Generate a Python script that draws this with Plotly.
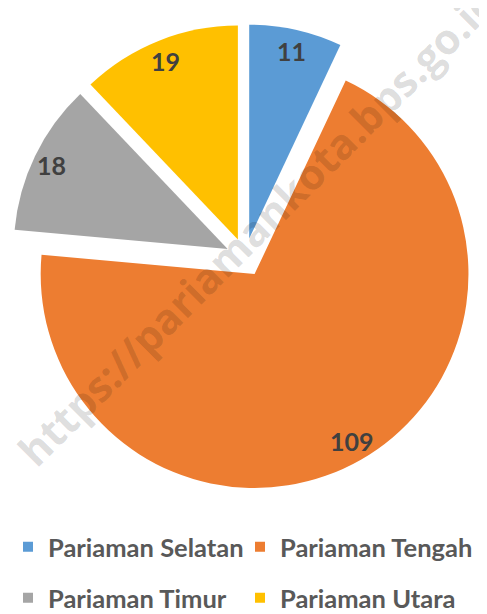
import math
import plotly.graph_objects as go

categories = ["Pariaman Selatan", "Pariaman Tengah", "Pariaman Timur", "Pariaman Utara"]
values = [11, 109, 18, 19]
colors = ["#5B9BD5", "#ED7D31", "#A5A5A5", "#FFC000"]
watermark = "https://pariamankota.bps.go.id"

W, H = 487, 614
PULL = 0.09
LABEL_FRAC = 0.90
dom_x = [0.0, 0.9733]
dom_y = [0.2011, 0.9731]

fig = go.Figure()
fig.add_trace(go.Pie(
    labels=categories, values=values,
    marker=dict(colors=colors, line=dict(width=0)),
    sort=False, direction="clockwise", rotation=0,
    pull=[PULL] * len(values), textinfo="none",
    hoverinfo="label+value", domain=dict(x=dom_x, y=dom_y),
    showlegend=False,
))

# data labels placed along each slice's mid-angle (same geometry plotly uses)
aw = W * (dom_x[1] - dom_x[0])
ah = H * (dom_y[1] - dom_y[0])
r = min(aw, ah) / (2 + 2 * PULL)
cx = W * (dom_x[0] + dom_x[1]) / 2
cy = H * (1 - dom_y[0]) - ah / 2
total = sum(values)
cum = 0
for v in values:
    mid = (cum + v / 2) / total * 2 * math.pi
    cum += v
    d = PULL * r + LABEL_FRAC * r
    px = cx + d * math.sin(mid)
    py = cy - d * math.cos(mid)
    fig.add_annotation(x=px / W, y=1 - py / H, xref="paper", yref="paper",
                       xanchor="center", yanchor="middle",
                       text=str(v), showarrow=False,
                       font=dict(family="Lato", size=25, color="#404040", weight="bold"))

# legend entries (two rows, two legends)
for i, (cat, col) in enumerate(zip(categories, colors)):
    fig.add_trace(go.Scatter(
        x=[None], y=[None], mode="markers", name=cat,
        marker=dict(symbol="square", size=10, color=col),
        legend="legend" if i < 2 else "legend2", hoverinfo="skip",
    ))

leg_common = dict(orientation="h", xanchor="left", yanchor="middle",
                  font=dict(family="Lato", size=25.5, color="#595959", weight="bold"),
                  entrywidth=187, entrywidthmode="pixels",
                  bgcolor="rgba(0,0,0,0)", itemclick=False, itemdoubleclick=False)

fig.add_annotation(x=249 / W, y=1 - 221 / H, xref="paper", yref="paper",
                   xanchor="center", yanchor="middle",
                   text=watermark, showarrow=False, textangle=-45,
                   font=dict(family="Open Sans", size=42, color="rgba(0,0,0,0.14)", weight="bold"))

fig.update_layout(
    width=W, height=H,
    margin=dict(l=0, r=0, t=0, b=0),
    paper_bgcolor="white", plot_bgcolor="white",
    xaxis=dict(visible=False), yaxis=dict(visible=False),
    legend=dict(x=0, y=1 - 548 / H, **leg_common),
    legend2=dict(x=0, y=1 - 600 / H, **leg_common),
)

fig.write_html("out.html")
